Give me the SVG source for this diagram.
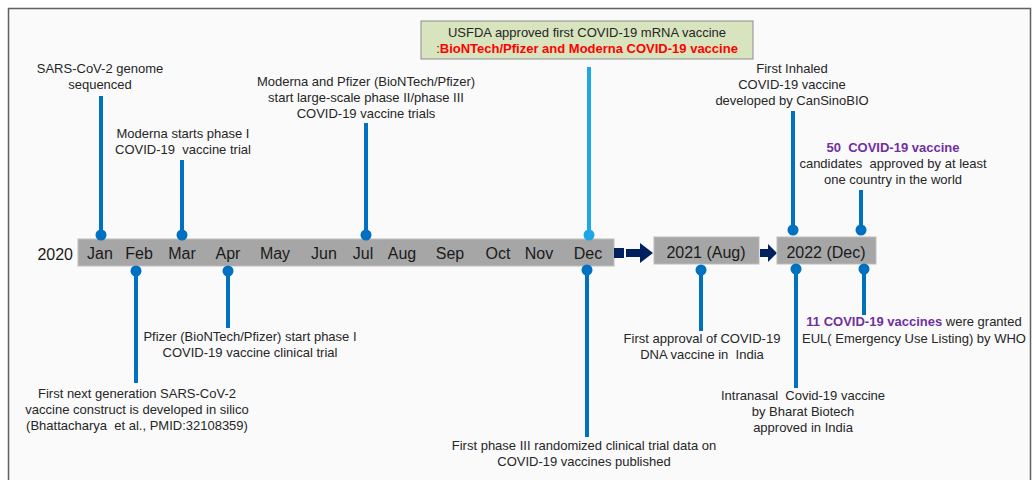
<svg xmlns="http://www.w3.org/2000/svg" width="1032" height="480" viewBox="0 0 1032 480">
<defs>
<style>
text{font-family:"Liberation Sans",Arial,sans-serif;fill:#262626}
.t{font-size:13px;text-anchor:middle}
.m{font-size:16px;text-anchor:middle;fill:#1a1a1a}
.stem{stroke:#0070C0;stroke-width:4;fill:none}
.stemL{stroke:#1ca8e6;stroke-width:4;fill:none}
.dot{fill:#0070C0}
.dotL{fill:#1ca8e6}
.bar{fill:#a6a6a6;stroke:#bdbdbd;stroke-width:1}
.nav{fill:#002060}
.pur{fill:#7030A0;font-weight:bold}
.red{fill:#FF0000;font-weight:bold}
</style>
</defs>
<rect x="0" y="0" width="1032" height="480" fill="#ffffff"/>
<rect x="8.5" y="8.5" width="1022" height="480" fill="#fafafa" stroke="#606060" stroke-width="1.5"/>

<g id="timeline">
<rect class="bar" x="78" y="239" width="536" height="27"/>
<text x="73" y="260" style="font-size:16px;fill:#1a1a1a" text-anchor="end">2020</text>
<text class="m" x="100" y="259">Jan</text>
<text class="m" x="139" y="259">Feb</text>
<text class="m" x="182" y="259">Mar</text>
<text class="m" x="228" y="259">Apr</text>
<text class="m" x="275" y="259">May</text>
<text class="m" x="324" y="259">Jun</text>
<text class="m" x="363" y="259">Jul</text>
<text class="m" x="402" y="259">Aug</text>
<text class="m" x="450" y="259">Sep</text>
<text class="m" x="498" y="259">Oct</text>
<text class="m" x="539" y="259">Nov</text>
<text class="m" x="588" y="259">Dec</text>
</g>

<g id="arrow1">
<rect class="nav" x="614" y="248" width="10" height="10"/>
<polygon class="nav" points="626,249 640,249 640,243 653,253 640,263 640,257 626,257"/>
</g>
<g id="y2021">
<rect class="bar" x="654" y="237" width="105" height="27"/>
<text class="m" x="706" y="258">2021 (Aug)</text>
</g>
<g id="arrow2">
<polygon class="nav" points="760,249 768,249 768,244 777,253 768,262 768,257 760,257"/>
</g>
<g id="y2022">
<rect class="bar" x="777" y="237" width="99" height="27"/>
<text class="m" x="826" y="258">2022 (Dec)</text>
</g>

<g id="connectors">
<line class="stem" x1="101" y1="96" x2="101" y2="235"/><circle class="dot" cx="101" cy="235" r="5.5"/>
<line class="stem" x1="182" y1="160" x2="182" y2="235"/><circle class="dot" cx="182" cy="235" r="5.5"/>
<line class="stem" x1="366" y1="123" x2="366" y2="235"/><circle class="dot" cx="366" cy="235" r="5.5"/>
<line class="stemL" x1="589" y1="67" x2="589" y2="235"/><circle class="dotL" cx="589" cy="235" r="5.5"/>
<line class="stem" x1="793" y1="111" x2="793" y2="230"/><circle class="dot" cx="793" cy="230" r="5.5"/>
<line class="stem" x1="861" y1="190" x2="861" y2="230"/><circle class="dot" cx="861" cy="230" r="5.5"/>
<line class="stem" x1="136" y1="271" x2="136" y2="383"/><circle class="dot" cx="136" cy="271" r="5.5"/>
<line class="stem" x1="228" y1="271" x2="228" y2="328"/><circle class="dot" cx="228" cy="271" r="5.5"/>
<line class="stem" x1="587" y1="270" x2="587" y2="437"/><circle class="dot" cx="587" cy="270" r="5.5"/>
<line class="stem" x1="701" y1="270" x2="701" y2="331"/><circle class="dot" cx="701" cy="270" r="5.5"/>
<line class="stem" x1="796" y1="269" x2="796" y2="388"/><circle class="dot" cx="796" cy="269" r="5.5"/>
<line class="stem" x1="864" y1="269" x2="864" y2="315"/><circle class="dot" cx="864" cy="269" r="5.5"/>
</g>

<g id="n-genome">
<text class="t" x="100" y="73">SARS-CoV-2 genome</text>
<text class="t" x="100" y="89">sequenced</text>
</g>
<g id="n-moderna1">
<text class="t" x="183" y="138">Moderna starts phase I</text>
<text class="t" x="183" y="154" xml:space="preserve">COVID-19  vaccine trial</text>
</g>
<g id="n-phase23">
<text class="t" x="366" y="86">Moderna and Pfizer (BioNTech/Pfizer)</text>
<text class="t" x="366" y="102">start large-scale phase II/phase III</text>
<text class="t" x="366" y="118">COVID-19 vaccine trials</text>
</g>
<g id="n-usfda">
<rect x="421" y="21" width="332" height="38" fill="#d7e4bd" stroke="#8c8c8c" stroke-width="1"/>
<text class="t" x="587" y="37">USFDA approved first COVID-19 mRNA vaccine</text>
<text class="t" x="587" y="53"><tspan>:</tspan><tspan class="red">BioNTech/Pfizer and Moderna COVID-19 vaccine</tspan></text>
</g>
<g id="n-inhaled">
<text class="t" x="792" y="73">First Inhaled</text>
<text class="t" x="792" y="89">COVID-19 vaccine</text>
<text class="t" x="792" y="105">developed by CanSinoBIO</text>
</g>
<g id="n-50">
<text class="t pur" x="893" y="152" xml:space="preserve">50  COVID-19 vaccine</text>
<text class="t" x="893" y="168" xml:space="preserve">candidates  approved by at least</text>
<text class="t" x="893" y="184">one country in the world</text>
</g>
<g id="n-silico">
<text class="t" x="137" y="398">First next generation SARS-CoV-2</text>
<text class="t" x="137" y="414">vaccine construct is developed in silico</text>
<text class="t" x="137" y="430" xml:space="preserve">(Bhattacharya  et al., PMID:32108359)</text>
</g>
<g id="n-pfizer1">
<text class="t" x="250" y="341">Pfizer (BioNTech/Pfizer) start phase I</text>
<text class="t" x="250" y="357">COVID-19 vaccine clinical trial</text>
</g>
<g id="n-phase3data">
<text class="t" x="584" y="450">First phase III randomized clinical trial data on</text>
<text class="t" x="584" y="466">COVID-19 vaccines published</text>
</g>
<g id="n-dna">
<text class="t" x="702" y="343">First approval of COVID-19</text>
<text class="t" x="702" y="359" xml:space="preserve">DNA vaccine in  India</text>
</g>
<g id="n-intranasal">
<text class="t" x="803" y="400" xml:space="preserve">Intranasal  Covid-19 vaccine</text>
<text class="t" x="803" y="416">by Bharat Biotech</text>
<text class="t" x="803" y="432">approved in India</text>
</g>
<g id="n-eul">
<text class="t" x="914" y="326"><tspan class="pur">11 COVID-19 vaccines</tspan> were granted</text>
<text class="t" x="914" y="343">EUL( Emergency Use Listing) by WHO</text>
</g>
</svg>
